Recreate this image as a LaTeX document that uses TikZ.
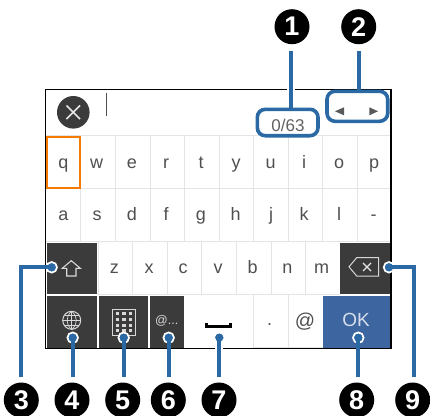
\documentclass[tikz,border=0pt]{standalone}
\usepackage{fontspec}
\setmainfont{Liberation Sans}
\newcommand{\fs}[1]{\fontsize{#1}{#1}\selectfont}
\definecolor{keyink}{HTML}{4F4F4F}
\definecolor{keydark}{HTML}{3B3B3B}
\definecolor{gridc}{HTML}{E4E4E4}
\definecolor{callout}{HTML}{2A69A4}
\definecolor{okblue}{HTML}{3D65A0}
\definecolor{iconc}{HTML}{D8D8D8}
\tikzset{
 x=1pt,y=-1pt,
 keyl/.style={anchor=base,inner sep=0pt,text=keyink,font=\fs{18}},
 gridl/.style={draw=gridc,line width=1pt},
 conn/.style={draw=callout,line width=4pt},
 connhalo/.style={conn,preaction={draw=white,line width=8pt}},
 badge/.style={circle,fill=black,text=white,minimum size=35pt,inner sep=0pt,font=\fs{27}\bfseries},
 hilite/.style={draw=callout,line width=3.6pt,rounded corners=8pt,fill=none,inner sep=0pt},
 dotn/.style={circle,fill=callout,draw=white,line width=1.8pt,minimum size=10.5pt,inner sep=0pt},
 iconl/.style={draw=iconc,line width=1pt},
}
\begin{document}
\begin{tikzpicture}
\useasboundingbox (0,0) rectangle (430,415);
\clip (0,0) rectangle (430,415);
% grid
\draw[gridl,line width=1.5pt] (46,135.7) -- (391,135.7);
\draw[gridl] (46,188.7) -- (391,188.7) (46,241.7) -- (391,241.7);
\foreach \x in {80.7,115.5,150.2,184.7,219.3,253.7,288.3,322.7,357.3}
  \draw[gridl] (\x,136) -- (\x,241.5);
\foreach \x in {98.7,132.7,167.3,201.7,236.7,271,305.7}
  \draw[gridl] (\x,242) -- (\x,294);
\draw[gridl] (97,294.5) -- (340,294.5);
\draw[gridl] (253.7,295) -- (253.7,348) (288.3,295) -- (288.3,348);
\draw[gridl,line width=1.5pt] (253.7,347.8) -- (323,347.8);
% dark keys
\fill[keydark] (46.8,243) rectangle (97,294);
\fill[keydark] (46.8,296) rectangle (97,348.5);
\fill[keydark] (99,296) rectangle (148,348.5);
\fill[keydark] (149.7,296) rectangle (184,348.5);
\fill[keydark] (340,243) rectangle (390,294);
\fill[okblue] (323,295.5) rectangle (391,348.5);
% frame
\draw[black,line width=1.2pt] (45.6,89.6) rectangle (391,348.6);
% letters
\foreach \l/\x in {q/63.5,w/96.7,e/132,r/166,t/201,y/236,u/270.5,i/304,o/339,p/374}
  \node[keyl] (k\l) at (\x,168.3) {\l};
\foreach \l/\x in {a/63.3,s/97,d/132,f/166,g/201,h/235.7,j/271,k/304,l/339,-/373.5}
  \node[keyl] (k\l) at (\x,220.7) {\l};
\foreach \l/\x in {z/114.3,x/149,c/183,v/218,b/252.7,n/287.3,m/321.5}
  \node[keyl] (k\l) at (\x,273.3) {\l};
\node[keyl] (kdot) at (269.5,325.7) {.};
\node[keyl,font=\fs{20}] (kat) at (305,327) {@};
\node[anchor=base,inner sep=0pt,text={rgb,255:red,213;green,222;blue,234},font=\fs{19}] (kok) at (356,326.2) {OK};
\node[anchor=base,inner sep=0pt,text=iconc,font=\fs{12.5}] (katm) at (166.7,324.5) {@...};
% orange focus
\draw[draw={rgb,255:red,245;green,124;blue,0},line width=1.8pt] (46.8,137.2) rectangle (79.6,188.2);
% clear button
\node[circle,fill=keydark,minimum size=32.6pt,inner sep=0pt] (clr) at (73.3,112.3) {};
\draw[white!90!black,line width=1.6pt] (66.5,105.5) -- (80.1,119.1) (80.1,105.5) -- (66.5,119.1);
% cursor
\draw[keyink,line width=1.6pt] (106.3,92.7) -- (106.3,116);
% counter
\node[inner sep=0pt,anchor=base,text=black!62,font=\fs{17}] (cnt) at (288,131) {0/63};
% triangles
\fill[black!65] (335,111.3) -- (344,107.3) -- (344,115.3) -- cycle;
\fill[black!65] (378,111.3) -- (369.3,107.3) -- (369.3,115.3) -- cycle;
% shift icon
\draw[iconl,line width=1.1pt,line join=miter] (71.3,260.7) -- (80.3,268.3) -- (76,268.3) -- (76,276) -- (66.7,276) -- (66.7,268.3) -- (62.3,268.3) -- cycle;
% globe
\node[circle,iconl,minimum size=18pt,inner sep=0pt] (glb) at (71.7,320.3) {};
\draw[iconl,line width=.7pt] (71.7,311.3) -- (71.7,329.3) (62.7,320.3) -- (80.7,320.3) (64.5,315.3) -- (78.9,315.3) (64.5,325.3) -- (78.9,325.3);
\draw[iconl,line width=.7pt] (71.7,311.3) .. controls (65.5,316) and (65.5,325) .. (71.7,329.3);
\draw[iconl,line width=.7pt] (71.7,311.3) .. controls (77.9,316) and (77.9,325) .. (71.7,329.3);
% keypad icon
\draw[iconl] (112.7,309.3) rectangle (135,335);
\foreach \x in {117.3,124,130.7} \foreach \y in {313.6,319.4,325.1,330.8}
  \fill[iconc] (\x-1.6,\y-1.6) rectangle (\x+1.6,\y+1.6);
% space
\draw[black,line width=2.8pt,line cap=butt,line join=miter] (206.7,322.7) -- (206.7,326.6) -- (230.3,326.6) -- (230.3,322.7);
% backspace
\draw[iconl] (349,266.8) -- (356.7,257.7) -- (378.7,257.7) -- (378.7,276) -- (356.7,276) -- cycle;
\draw[white!90!black,line width=1.3pt] (363,263) -- (371,271) (371,263) -- (363,271);
% badges
\node[badge] (b1) at (292,26.7) {1};
\node[badge] (b2) at (358.7,26.7) {2};
\node[badge] (b3) at (21.3,400) {3};
\node[badge] (b4) at (72,400) {4};
\node[badge] (b5) at (122.7,400) {5};
\node[badge] (b6) at (168.3,400) {6};
\node[badge] (b7) at (219,400) {7};
\node[badge] (b8) at (356.7,400) {8};
\node[badge] (b9) at (412.7,400) {9};
% anchors
\coordinate (h1t) at (290.7,109.3);
\coordinate (h2t) at (359,91.3);
\node[dotn] (d3) at (51.7,267.3) {};
\node[dotn] (d4) at (72.7,337.7) {};
\node[dotn] (d5) at (123.7,337.7) {};
\node[dotn] (d6) at (168.7,337.7) {};
\node[dotn] (d7) at (219.3,337.7) {};
\node[dotn] (d8) at (358.3,337.7) {};
\node[dotn] (d9) at (389,267.3) {};
% connectors
\draw[connhalo,shorten <=6.5pt] (h1t |- b1.south) -- (h1t);
\draw[conn,shorten <=6.5pt] (h2t |- b2.south) -- (h2t);
\draw[conn,shorten >=5.5pt] (d3.center) -| (b3.north);
\draw[conn,shorten >=5.5pt] (d4.center) -- (d4 |- b4.north);
\draw[conn,shorten >=5.5pt] (d5.center) -- (d5 |- b5.north);
\draw[conn,shorten >=5.5pt] (d6.center) -- (d6 |- b6.north);
\draw[connhalo,shorten >=5.5pt] (d7.center) -- (d7 |- b7.north);
\draw[conn,shorten >=5.5pt] (d8.center) -- (d8 |- b8.north);
\draw[conn,shorten >=5.5pt] (d9.center) -| (414.3,382.5);
% redraw dots above connectors
\foreach \d in {d3,d4,d5,d6,d7,d8,d9}
  \fill[callout] (\d) circle (4pt);
% highlight boxes
\draw[hilite] (257.3,109.3) rectangle (318,135.7);
\draw[hilite] (327,91.3) rectangle (387.7,121.3);
\end{tikzpicture}
\end{document}
